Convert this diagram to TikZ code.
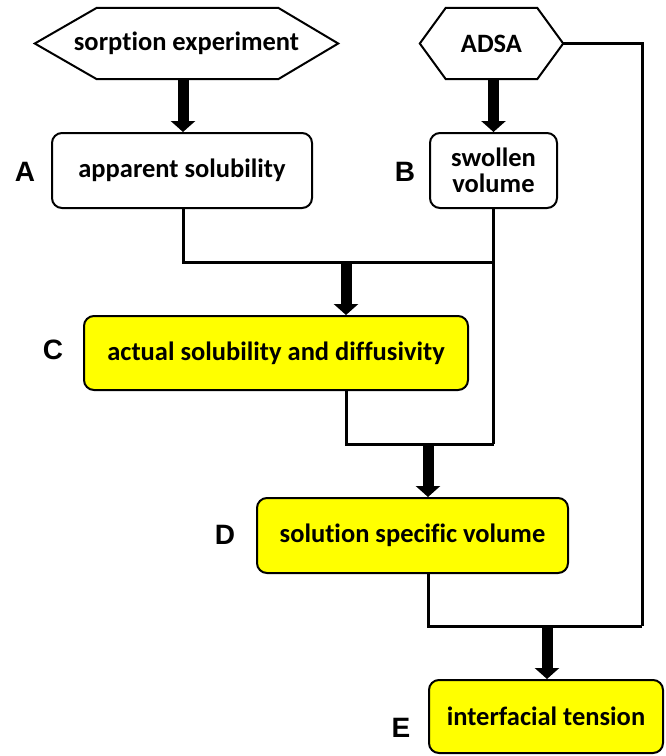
\documentclass[tikz,border=0pt]{standalone}
\usepackage{fontspec}
\setmainfont[Ligatures=NoCommon]{Carlito}
\newfontfamily\lblfont{Liberation Sans}
\usetikzlibrary{arrows.meta}
\definecolor{boxyellow}{RGB}{255,255,0}
\tikzset{
  proc/.style={draw=black, line width=2pt, rounded corners=10pt, fill=white,
    inner sep=0pt, align=center, font=\fontsize{26.5}{26}\selectfont\bfseries},
  yproc/.style={proc, fill=boxyellow},
  hexbox/.style={inner sep=0pt, font=\fontsize{26.5}{26}\selectfont\bfseries},
  hexline/.style={draw=black, line width=2pt, line join=miter},
  tag/.style={font=\lblfont\fontsize{28}{30}\selectfont\bfseries},
  conn/.style={draw=black, line width=3pt, line join=miter},
  bigarrow/.style={draw=black, line width=11pt, -{Triangle[width=24pt,length=11pt]}}
}
\begin{document}
\begin{tikzpicture}[x=1pt,y=-1pt]
\useasboundingbox (0,0) rectangle (665,756);

% hexagons
\node[hexbox, minimum width=303pt, minimum height=71pt] (sorp) at (186.5,43.5) {sorption experiment};
\node[hexbox, minimum width=143pt, minimum height=71pt] (adsa) at (491.5,43.5) {ADSA};
\draw[hexline] (sorp.west) -- ([xshift=62pt]sorp.north west) -- ([xshift=-60pt]sorp.north east)
  -- (sorp.east) -- ([xshift=-60pt]sorp.south east) -- ([xshift=62pt]sorp.south west) -- cycle;
\draw[hexline] (adsa.west) -- ([xshift=26pt]adsa.north west) -- ([xshift=-26pt]adsa.north east)
  -- (adsa.east) -- ([xshift=-26pt]adsa.south east) -- ([xshift=26pt]adsa.south west) -- cycle;

% boxes
\node[proc, minimum width=260pt, minimum height=75pt] (A) at (182,170.5) {apparent solubility};
\node[proc, minimum width=127pt, minimum height=75pt] (B) at (493.5,170.5) {swollen\\volume};
\node[yproc, minimum width=384pt, minimum height=74pt] (C) at (276,353) {actual solubility and diffusivity};
\node[yproc, minimum width=311pt, minimum height=75pt] (D) at (412.5,535.5) {solution specific volume};
\node[yproc, minimum width=234pt, minimum height=73pt] (E) at (546,716.5) {interfacial tension};

% labels
\node[tag] (lA) at (25,172) {A};
\node[tag] (lB) at (405,172) {B};
\node[tag] (lC) at (53,350) {C};
\node[tag] (lD) at (225,535) {D};
\node[tag] (lE) at (401,728) {E};

% junction coordinates
\coordinate (j1) at (494,262);
\coordinate (j2) at (494,444);
\coordinate (j3) at (642,626);
\coordinate (c1) at (346,262);
\coordinate (d1) at (428,444);
\coordinate (e1) at (547,626);

% connectors
\draw[conn] (A.south -| 183,0) -- (183,262) -- (j1);
\draw[conn] (B.south) -- (B.south |- j2);
\draw[conn] (c1 |- C.south) -- (c1 |- j2) -- (j2);
\draw[conn] (d1 |- D.south) -- (d1 |- j3) -- (j3);
\draw[conn] (adsa.east) -- (j3 |- adsa.east) -- (j3);

% big arrows
\draw[bigarrow] (183,0 |- sorp.south) -- (183,0 |- A.north);
\draw[bigarrow] (B.north |- adsa.south) -- (B.north);
\draw[bigarrow] (c1) -- (c1 |- C.north);
\draw[bigarrow] (d1) -- (d1 |- D.north);
\draw[bigarrow] (e1) -- (e1 |- E.north);
\end{tikzpicture}
\end{document}
